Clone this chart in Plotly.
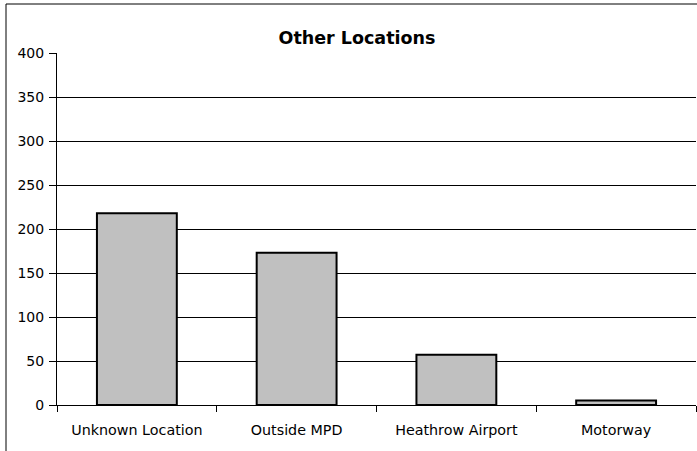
import plotly.graph_objects as go

categories = ["Unknown Location", "Outside MPD", "Heathrow Airport", "Motorway"]
values = [218, 173, 57, 5]
title_text = "Other Locations"

FONT = "DejaVu Sans"

fig = go.Figure(go.Bar(
    x=categories, y=values,
    marker=dict(color="#c0c0c0", line=dict(color="black", width=2)),
))

fig.update_layout(
    template="none",
    width=697, height=451,
    margin=dict(l=57, r=1, t=53, b=46, pad=0),
    paper_bgcolor="white", plot_bgcolor="white",
    bargap=0.5,
    showlegend=False,
    title=dict(text="<b>" + title_text + "</b>", x=(357 - 57) / 639, xref="paper", xanchor="center",
               y=1 - 38 / 451, yanchor="middle",
               font=dict(family=FONT, size=17.5, color="black")),
    font=dict(family=FONT, size=14, color="black"),
    shapes=[dict(type="rect", xref="paper", yref="paper",
                 x0=-51 / 639, x1=1.05, y0=-0.2, y1=1 + 49 / 352,
                 line=dict(color="black", width=1), layer="above")],
)

fig.update_xaxes(
    type="category", range=[-0.5, 3.5], automargin=False,
    showline=True, linecolor="black", linewidth=1,
    ticks="outside", tickson="boundaries", ticklen=6, tickcolor="black", tickwidth=1,
    ticklabelstandoff=12,
    showgrid=False, tickfont=dict(family=FONT, size=14.3, color="black"),
)
fig.update_yaxes(
    range=[0, 400], dtick=50, tick0=0, automargin=False,
    showline=True, linecolor="black", linewidth=1,
    ticks="outside", ticklen=7, tickcolor="black", tickwidth=1,
    ticklabelstandoff=2,
    showgrid=True, gridcolor="black", gridwidth=1,
    zeroline=False,
    tickfont=dict(family=FONT, size=14, color="black"),
)

fig.write_html(
    "out.html",
    config={"displayModeBar": False},
    post_script="document.body.style.margin='0';document.body.style.overflow='hidden';",
)
